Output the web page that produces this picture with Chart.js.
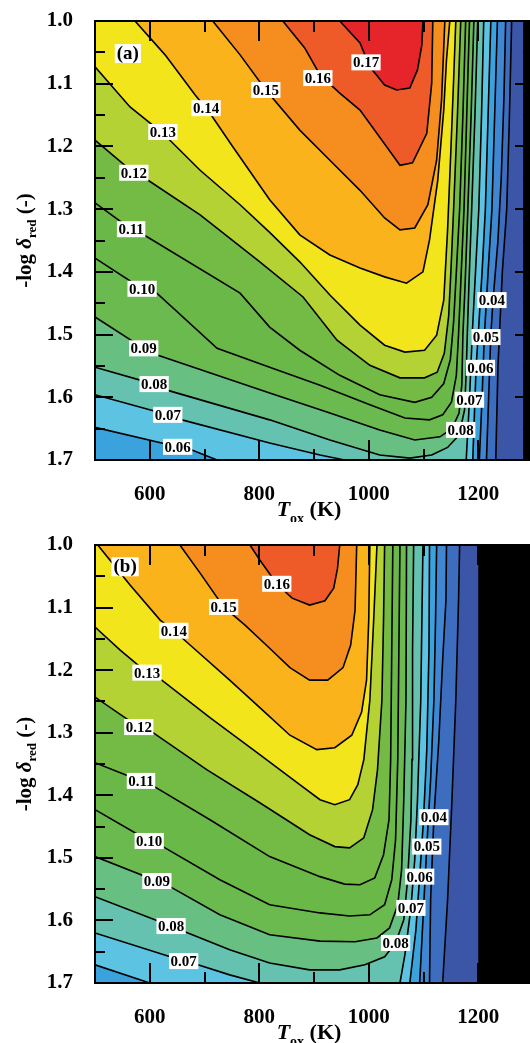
<!DOCTYPE html>
<html><head><meta charset="utf-8">
<script src="https://cdn.jsdelivr.net/npm/chart.js@4.4.1/dist/chart.umd.min.js"></script>
<style>
html,body{margin:0;padding:0;background:#fff;overflow:hidden;width:530px;height:1043px;}
canvas{position:absolute;left:0;}
#ca{top:0}#cb{top:522px}
</style></head>
<body>
<canvas id="ca" width="536" height="522"></canvas>
<canvas id="cb" width="536" height="521"></canvas>
<script>
// ---------- axes ----------
const X_MIN = 500, X_MAX = 1300, Y_TOP = 1.0, Y_BOTTOM = 1.7;
const X_TICK_VALUES = [600, 800, 1000, 1200];
const X_MINOR_TICKS = [700, 900, 1100];
const Y_TICK_VALUES = [1.0, 1.1, 1.2, 1.3, 1.4, 1.5, 1.6, 1.7];
const Y_MINOR_TICKS = [1.05, 1.15, 1.25, 1.35, 1.45, 1.55, 1.65];

// ---------- contour levels & colours (band above each level) ----------
const CONTOUR_LEVELS = [0.03, 0.04, 0.05, 0.06, 0.07, 0.08, 0.09, 0.10, 0.11, 0.12, 0.13, 0.14, 0.15, 0.16, 0.17];
const BAND_COLORS = ['#3d6dbf', '#3f87d2', '#3aa3de', '#5cc3e3', '#66c2b0', '#68bf82', '#6bba50', '#6ab847', '#73bb44', '#b4d234', '#f3e51c', '#fbb31b', '#f68e1f', '#ee5b29', '#e5252a'];
const BELOW_COLOR = '#3b56a7';
const A_DATA_END = 1282;   // T beyond which panel (a) has no data
const B_DATA_END = 1200;   // T beyond which panel (b) has no data

// ---------- panel (a) contour lines [T, -log d] ----------
const a17 = [[947,1.000],[984,1.035],[1002,1.073],[1029,1.102],[1051,1.110],[1075,1.107],[1089,1.078],[1097,1.038],[1099,1.000]];
const a16 = [[843,1.000],[883,1.043],[911,1.086],[947,1.115],[984,1.142],[1033,1.201],[1057,1.230],[1080,1.226],[1106,1.179],[1115,1.099],[1117,1.000]];
const a15 = [[715,1.000],[765,1.054],[812,1.110],[874,1.174],[929,1.222],[984,1.270],[1029,1.314],[1057,1.333],[1084,1.330],[1108,1.293],[1124,1.222],[1133,1.126],[1139,1.000]];
const a14 = [[573,1.000],[628,1.054],[683,1.118],[710,1.147],[752,1.201],[819,1.285],[874,1.341],[929,1.373],[984,1.394],[1029,1.408],[1069,1.418],[1099,1.400],[1111,1.349],[1126,1.254],[1137,1.142],[1142,1.062],[1148,1.000]];
const a13 = [[500,1.073],[564,1.137],[624,1.179],[692,1.238],[765,1.293],[819,1.337],[874,1.384],[929,1.437],[984,1.485],[1029,1.517],[1066,1.528],[1102,1.525],[1124,1.501],[1137,1.445],[1144,1.333],[1150,1.206],[1155,1.094],[1159,1.000]];
const a12 = [[500,1.190],[571,1.242],[597,1.254],[692,1.309],[801,1.384],[880,1.440],[942,1.509],[1002,1.549],[1057,1.569],[1102,1.569],[1125,1.560],[1138,1.530],[1146,1.470],[1150,1.400],[1155,1.300],[1162,1.150],[1168,1.000]];
const a11 = [[500,1.290],[566,1.332],[595,1.344],[765,1.434],[819,1.488],[874,1.525],[947,1.565],[1020,1.596],[1084,1.608],[1115,1.600],[1137,1.578],[1149,1.540],[1155,1.480],[1160,1.400],[1166,1.300],[1172,1.150],[1177,1.000]];
const a10 = [[500,1.378],[586,1.427],[613,1.434],[723,1.522],[819,1.552],[911,1.581],[1002,1.612],[1066,1.633],[1111,1.636],[1135,1.628],[1151,1.608],[1160,1.565],[1164,1.500],[1168,1.420],[1174,1.300],[1179,1.150],[1184,1.000]];
const a09 = [[500,1.472],[589,1.522],[615,1.533],[819,1.593],[929,1.625],[1020,1.652],[1084,1.668],[1130,1.663],[1152,1.650],[1165,1.625],[1170,1.580],[1172,1.500],[1176,1.420],[1181,1.300],[1187,1.150],[1192,1.000]];
const a08 = [[500,1.552],[608,1.579],[633,1.589],[819,1.636],[929,1.668],[1020,1.692],[1075,1.697],[1115,1.692],[1144,1.680],[1160,1.665],[1168,1.648],[1175,1.620],[1178,1.560],[1180,1.500],[1183,1.420],[1188,1.300],[1194,1.150],[1199,1.000]];
const a07L = [[500,1.596],[633,1.628],[659,1.636],[819,1.673],[911,1.692],[956,1.700]];
const a07R = [[1178,1.700],[1184,1.604],[1189,1.500],[1195,1.400],[1201,1.300],[1206,1.150],[1210,1.000]];
const a06L = [[500,1.648],[651,1.679],[677,1.684],[723,1.700]];
const a06R = [[1190,1.700],[1196,1.553],[1200,1.500],[1207,1.400],[1213,1.300],[1218,1.150],[1223,1.000]];
const a05 = [[1202,1.700],[1207,1.600],[1211,1.504],[1218,1.400],[1225,1.300],[1230,1.150],[1235,1.000]];
const a04 = [[1215,1.700],[1219,1.600],[1223,1.500],[1227,1.445],[1236,1.350],[1242,1.250],[1247,1.120],[1250,1.000]];
const a03 = [[1232,1.700],[1236,1.550],[1244,1.400],[1252,1.300],[1257,1.150],[1261,1.000]];

// ---------- panel (b) contour lines ----------
const b16 = [[783,1.000],[801,1.024],[832,1.062],[860,1.085],[892,1.096],[920,1.089],[936,1.069],[943,1.037],[947,1.000]];
const b15 = [[655,1.000],[692,1.045],[735,1.099],[774,1.128],[819,1.165],[856,1.196],[892,1.216],[925,1.216],[953,1.196],[967,1.160],[975,1.104],[978,1.000]];
const b14 = [[505,1.000],[564,1.064],[619,1.120],[644,1.137],[670,1.157],[746,1.216],[810,1.267],[856,1.304],[905,1.327],[938,1.324],[969,1.304],[987,1.267],[996,1.216],[1000,1.120],[1002,1.000]];
const b13 = [[500,1.131],[546,1.168],[595,1.204],[622,1.216],[710,1.276],[801,1.335],[874,1.383],[911,1.407],[938,1.415],[965,1.407],[980,1.383],[991,1.343],[1002,1.248],[1009,1.120],[1015,1.000]];
const b12 = [[500,1.243],[580,1.291],[606,1.300],[704,1.359],[801,1.412],[892,1.463],[938,1.482],[965,1.484],[991,1.468],[1007,1.423],[1016,1.359],[1024,1.248],[1027,1.120],[1029,1.000]];
const b11 = [[500,1.348],[584,1.377],[610,1.387],[710,1.439],[819,1.498],[911,1.530],[956,1.542],[984,1.543],[1011,1.532],[1027,1.495],[1037,1.439],[1040,1.343],[1042,1.168],[1044,1.000]];
const b10 = [[500,1.423],[599,1.473],[624,1.482],[728,1.535],[819,1.575],[911,1.588],[965,1.593],[1002,1.591],[1029,1.575],[1042,1.535],[1049,1.471],[1053,1.343],[1055,1.168],[1057,1.000]];
const b09 = [[500,1.498],[613,1.537],[641,1.548],[728,1.591],[819,1.623],[911,1.633],[975,1.634],[1015,1.628],[1038,1.612],[1053,1.575],[1060,1.519],[1064,1.407],[1068,1.248],[1069,1.000]];
const b08 = [[500,1.562],[639,1.609],[664,1.618],[746,1.647],[819,1.668],[892,1.679],[947,1.679],[993,1.671],[1029,1.658],[1049,1.636],[1064,1.599],[1071,1.535],[1077,1.439],[1079,1.343],[1080,1.168],[1082,1.000]];
const b07L = [[500,1.620],[662,1.665],[688,1.671],[746,1.687],[801,1.700]];
const b07R = [[1057,1.700],[1066,1.655],[1077,1.580],[1084,1.503],[1089,1.407],[1095,1.248],[1099,1.000]];
const b06L = [[500,1.671],[600,1.700]];
const b06R = [[1075,1.700],[1086,1.616],[1093,1.530],[1100,1.439],[1106,1.327],[1110,1.168],[1111,1.000]];
const b05 = [[1093,1.700],[1099,1.599],[1106,1.482],[1113,1.375],[1119,1.248],[1122,1.120],[1124,1.000]];
const b04 = [[1111,1.700],[1113,1.567],[1119,1.435],[1128,1.312],[1135,1.184],[1141,1.088],[1142,1.000]];
const b03 = [[1135,1.700],[1144,1.567],[1152,1.407],[1159,1.248],[1164,1.088],[1166,1.000]];

// ---------- contour labels [level, T, -log d] ----------
const aLabels = [[0.17,995,1.066],[0.16,907,1.091],[0.15,812,1.110],[0.14,703,1.139],[0.13,624,1.177],[0.12,571,1.242],[0.11,566,1.332],[0.10,586,1.427],[0.09,589,1.522],[0.08,608,1.579],[0.07,633,1.628],[0.06,651,1.679],[0.04,1225,1.445],[0.05,1214,1.504],[0.06,1204,1.553],[0.07,1184,1.604],[0.08,1168,1.652]];
const bLabels = [[0.16,832,1.062],[0.15,735,1.099],[0.14,644,1.137],[0.13,595,1.204],[0.12,580,1.291],[0.11,584,1.377],[0.10,599,1.473],[0.09,613,1.537],[0.08,639,1.609],[0.07,662,1.665],[0.04,1119,1.435],[0.05,1106,1.482],[0.06,1093,1.530],[0.07,1077,1.580],[0.08,1049,1.636]];
const aTag = ['(a)', 560, 1.051];
const bTag = ['(b)', 555, 1.034];

// ---------- how each superlevel region closes along the frame ----------
const panelA = [
  {lv:0.03, pieces:[a03], close:'TLBL'}, {lv:0.04, pieces:[a04], close:'TLBL'}, {lv:0.05, pieces:[a05], close:'TLBL'},
  {lv:0.06, pieces:[a06L, a06R], close:'TL'}, {lv:0.07, pieces:[a07L, a07R], close:'TL'},
  {lv:0.08, pieces:[a08], close:'TL'}, {lv:0.09, pieces:[a09], close:'TL'}, {lv:0.10, pieces:[a10], close:'TL'},
  {lv:0.11, pieces:[a11], close:'TL'}, {lv:0.12, pieces:[a12], close:'TL'}, {lv:0.13, pieces:[a13], close:'TL'},
  {lv:0.14, pieces:[a14], close:''}, {lv:0.15, pieces:[a15], close:''}, {lv:0.16, pieces:[a16], close:''}, {lv:0.17, pieces:[a17], close:''}
];
const panelB = [
  {lv:0.03, pieces:[b03], close:'TLBL'}, {lv:0.04, pieces:[b04], close:'TLBL'}, {lv:0.05, pieces:[b05], close:'TLBL'},
  {lv:0.06, pieces:[b06L, b06R], close:'TL'}, {lv:0.07, pieces:[b07L, b07R], close:'TL'},
  {lv:0.08, pieces:[b08], close:'TL'}, {lv:0.09, pieces:[b09], close:'TL'}, {lv:0.10, pieces:[b10], close:'TL'},
  {lv:0.11, pieces:[b11], close:'TL'}, {lv:0.12, pieces:[b12], close:'TL'}, {lv:0.13, pieces:[b13], close:'TL'},
  {lv:0.14, pieces:[b14], close:''}, {lv:0.15, pieces:[b15], close:''}, {lv:0.16, pieces:[b16], close:''}
];

const SERIF = '"Liberation Serif", "Times New Roman", serif';
const toPts = arr => arr.map(p => ({x: p[0], y: p[1]}));
const bandColor = lv => BAND_COLORS[CONTOUR_LEVELS.indexOf(lv)];

function fillDs(pts, color, order) {
  return {data: toPts(pts), fill: 'shape', backgroundColor: color, borderColor: 'rgba(0,0,0,0)',
          borderWidth: 0, pointRadius: 0, pointHoverRadius: 0, tension: 0, order};
}
function lineDs(p) {
  return {data: toPts(p), fill: false, borderColor: '#000', borderWidth: 1.6,
          pointRadius: 0, pointHoverRadius: 0, tension: 0, order: 0};
}
function buildDatasets(table, dataEnd) {
  const ds = [];
  let order = 1000;
  ds.push(fillDs([[X_MIN, Y_TOP], [dataEnd, Y_TOP], [dataEnd, Y_BOTTOM], [X_MIN, Y_BOTTOM]], BELOW_COLOR, order--));
  for (const e of table) {
    const pts = [];
    e.pieces.forEach(p => p.forEach(q => pts.push(q)));
    if (e.close === 'TL' || e.close === 'TLBL') pts.push([X_MIN, Y_TOP]);
    if (e.close === 'TLBL') pts.push([X_MIN, Y_BOTTOM]);
    ds.push(fillDs(pts, bandColor(e.lv), order--));
  }
  for (const e of table) for (const p of e.pieces) ds.push(lineDs(p));
  return ds;
}

const bgPlugin = {
  id: 'nodataBg',
  beforeDatasetsDraw(chart) {
    const {ctx, chartArea: a} = chart;
    ctx.save(); ctx.fillStyle = '#000';
    ctx.fillRect(a.left, a.top, a.right - a.left, a.bottom - a.top);
    ctx.restore();
  }
};

function overlayPlugin(labels, tag) {
  return {
    id: 'overlay',
    afterDatasetsDraw(chart) {
      const {ctx, chartArea: a, scales: {x, y}} = chart;
      ctx.save();
      ctx.beginPath(); ctx.rect(a.left, a.top, a.right - a.left, a.bottom - a.top); ctx.clip();
      // contour labels
      ctx.font = 'bold 15px ' + SERIF;
      ctx.textAlign = 'center'; ctx.textBaseline = 'middle';
      for (const [lv, T, v] of labels) {
        const px = x.getPixelForValue(T), py = y.getPixelForValue(v);
        const t = lv.toFixed(2);
        const w = ctx.measureText(t).width;
        ctx.fillStyle = '#fff';
        ctx.fillRect(px - w / 2 - 1.5, py - 8, w + 3, 16);
        ctx.fillStyle = '#000';
        ctx.fillText(t, px, py + 1);
      }
      // panel tag
      ctx.font = 'bold 19px ' + SERIF;
      const tx = x.getPixelForValue(tag[1]), ty = y.getPixelForValue(tag[2]);
      const tw = ctx.measureText(tag[0]).width;
      ctx.fillStyle = '#fff';
      ctx.fillRect(tx - tw / 2 - 2, ty - 9, tw + 4, 19);
      ctx.fillStyle = '#000';
      ctx.fillText(tag[0], tx, ty + 1);
      // inward ticks
      ctx.strokeStyle = '#000'; ctx.lineWidth = 2;
      ctx.beginPath();
      const xt = (vals, len) => vals.forEach(v => {
        const px = Math.round(x.getPixelForValue(v));
        ctx.moveTo(px, a.bottom); ctx.lineTo(px, a.bottom - len);
        ctx.moveTo(px, a.top); ctx.lineTo(px, a.top + len);
      });
      const yt = (vals, len) => vals.forEach(v => {
        const py = Math.round(y.getPixelForValue(v));
        ctx.moveTo(a.left, py); ctx.lineTo(a.left + len, py);
        ctx.moveTo(a.right, py); ctx.lineTo(a.right - len, py);
      });
      xt(X_TICK_VALUES, 20); xt(X_MINOR_TICKS, 11);
      yt(Y_TICK_VALUES, 18); yt(Y_MINOR_TICKS, 10);
      ctx.stroke();
      ctx.restore();
      // frame
      ctx.save();
      ctx.strokeStyle = '#000'; ctx.lineWidth = 2;
      ctx.strokeRect(a.left, a.top, a.right - a.left, a.bottom - a.top);
      ctx.restore();
    },
    afterDraw(chart) {
      const {ctx, chartArea: a} = chart;
      ctx.save();
      ctx.fillStyle = '#000'; ctx.textBaseline = 'alphabetic'; ctx.textAlign = 'left';
      // y title
      const yParts = [
        {t: '-log ', f: 'bold 21px ' + SERIF, dy: 0},
        {t: 'δ', f: 'italic bold 21px ' + SERIF, dy: 0},
        {t: 'red', f: 'bold 13px ' + SERIF, dy: 5},
        {t: ' (-)', f: 'bold 21px ' + SERIF, dy: 0}
      ];
      ctx.save();
      ctx.translate(31, (a.top + a.bottom) / 2);
      ctx.rotate(-Math.PI / 2);
      let tot = 0;
      yParts.forEach(p => { ctx.font = p.f; p.w = ctx.measureText(p.t).width; tot += p.w; });
      let cx = -tot / 2;
      yParts.forEach(p => { ctx.font = p.f; ctx.fillText(p.t, cx, p.dy); cx += p.w; });
      ctx.restore();
      // x title
      const xParts = [
        {t: 'T', f: 'italic bold 22px ' + SERIF, dy: 0},
        {t: 'ox', f: 'bold 14px ' + SERIF, dy: 7},
        {t: ' (K)', f: 'bold 22px ' + SERIF, dy: 0}
      ];
      tot = 0;
      xParts.forEach(p => { ctx.font = p.f; p.w = ctx.measureText(p.t).width; tot += p.w; });
      cx = 309 - tot / 2;
      xParts.forEach(p => { ctx.font = p.f; ctx.fillText(p.t, cx, a.bottom + 56 + p.dy); cx += p.w; });
      ctx.restore();
    }
  };
}

function makeChart(id, table, dataEnd, labels, tag, padTop, xHeight) {
  return new Chart(document.getElementById(id), {
    type: 'line',
    data: {datasets: buildDatasets(table, dataEnd)},
    options: {
      responsive: false, animation: false, devicePixelRatio: 1, events: [],
      layout: {padding: {top: padTop, right: 3, left: 0, bottom: 0}},
      plugins: {legend: {display: false}, tooltip: {enabled: false}, filler: {propagate: false}},
      scales: {
        x: {
          type: 'linear', min: X_MIN, max: X_MAX,
          grid: {display: false, drawTicks: false}, border: {display: false},
          afterBuildTicks: s => { s.ticks = X_TICK_VALUES.map(v => ({value: v})); },
          afterFit: s => { s.height = xHeight; s.paddingLeft = 0; s.paddingRight = 0; },
          ticks: {color: '#000', padding: 22, autoSkip: false, maxRotation: 0,
                  font: {family: SERIF, size: 21, weight: 'bold'}, callback: v => String(v)}
        },
        y: {
          type: 'linear', reverse: true, min: Y_TOP, max: Y_BOTTOM,
          grid: {display: false, drawTicks: false}, border: {display: false},
          afterBuildTicks: s => { s.ticks = Y_TICK_VALUES.map(v => ({value: v})); },
          afterFit: s => { s.width = 95; s.paddingTop = 0; s.paddingBottom = 0; },
          ticks: {color: '#000', padding: 22, autoSkip: false,
                  font: {family: SERIF, size: 21, weight: 'bold'}, callback: v => Number(v).toFixed(1)}
        }
      }
    },
    plugins: [bgPlugin, overlayPlugin(labels, tag)]
  });
}

makeChart('ca', panelA, A_DATA_END, aLabels, aTag, 21, 62);
makeChart('cb', panelB, B_DATA_END, bLabels, bTag, 23, 60);
</script>
</body></html>
